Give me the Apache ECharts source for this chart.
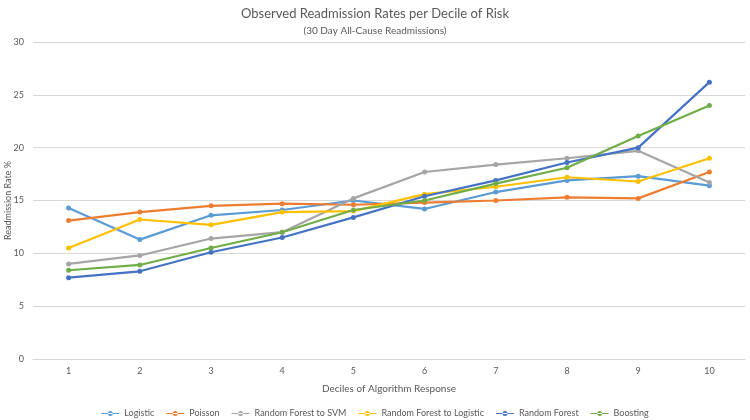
<!DOCTYPE html>
<html>
<head>
<meta charset="utf-8">
<script src="https://cdn.jsdelivr.net/npm/echarts@6/dist/echarts.min.js"></script>
<style>html,body{margin:0;padding:0;background:#fff}#c{width:750px;height:420px}</style>
</head>
<body>
<div id="c"></div>
<script>
var categories = ['1','2','3','4','5','6','7','8','9','10'];
var logistic = [14.3, 11.3, 13.6, 14.1, 15.0, 14.2, 15.8, 16.9, 17.3, 16.4];
var poisson = [13.1, 13.9, 14.5, 14.7, 14.6, 14.8, 15.0, 15.3, 15.2, 17.7];
var rfToSvm = [9.0, 9.8, 11.4, 12.0, 15.2, 17.7, 18.4, 19.0, 19.7, 16.7];
var rfToLogistic = [10.5, 13.2, 12.7, 13.9, 14.0, 15.6, 16.3, 17.2, 16.8, 19.0];
var randomForest = [7.7, 8.3, 10.1, 11.5, 13.4, 15.4, 16.9, 18.6, 20.0, 26.2];
var boosting = [8.4, 8.9, 10.5, 12.0, 14.1, 15.0, 16.6, 18.1, 21.1, 24.0];
var seriesNames = ['Logistic','Poisson','Random Forest to SVM','Random Forest to Logistic','Random Forest','Boosting'];
var seriesData = [logistic, poisson, rfToSvm, rfToLogistic, randomForest, boosting];
var colors = ['#5B9BD5','#ED7D31','#A5A5A5','#FFC000','#4472C4','#70AD47'];
var yTicks = [0, 5, 10, 15, 20, 25, 30];

var font = 'Lato, "Open Sans", sans-serif';
var chart = echarts.init(document.getElementById('c'), null, {renderer: 'canvas'});
chart.setOption({
  animation: false,
  color: colors,
  title: [{
    text: 'Observed Readmission Rates per Decile of Risk',
    left: 'center', top: 2,
    textStyle: {fontFamily: font, fontSize: 13, fontWeight: 'normal', color: '#595959'}
  }, {
    text: '(30 Day All-Cause Readmissions)',
    left: 'center', top: 21,
    textStyle: {fontFamily: font, fontSize: 10, fontWeight: 'normal', color: '#595959'}
  }],
  grid: {left: 33, right: 5, top: 42, bottom: 61, containLabel: false, outerBoundsMode: 'none'},
  legend: {
    left: 'center', top: 404, itemGap: 12, itemWidth: 18, itemHeight: 8,
    icon: 'path://M0,3.5 L18,3.5 L18,4.5 L0,4.5 Z M6.5,4 A2.5,2.5 0 1,0 11.5,4 A2.5,2.5 0 1,0 6.5,4 Z',
    textStyle: {fontFamily: font, fontSize: 9, color: '#595959'},
    data: seriesNames
  },
  xAxis: {
    type: 'category', data: categories, boundaryGap: true,
    name: 'Deciles of Algorithm Response', nameLocation: 'middle', nameGap: 25,
    nameMoveOverlap: false,
    nameTextStyle: {fontFamily: font, fontSize: 10, color: '#595959'},
    axisLine: {lineStyle: {color: '#D9D9D9'}},
    axisTick: {show: false},
    axisLabel: {fontFamily: font, fontSize: 9, color: '#595959', margin: 8}
  },
  yAxis: {
    type: 'value', min: 0, max: 30, interval: 5,
    name: 'Readmission Rate %', nameLocation: 'middle', nameGap: 20,
    nameMoveOverlap: false,
    nameTextStyle: {fontFamily: font, fontSize: 9, color: '#595959'},
    axisLine: {show: false}, axisTick: {show: false},
    axisLabel: {fontFamily: font, fontSize: 9, color: '#595959', margin: 9,
      formatter: function(v){ return yTicks.indexOf(v) >= 0 ? String(v) : ''; }},
    splitLine: {lineStyle: {color: '#D9D9D9', width: 1}}
  },
  series: seriesNames.map(function(n, i){
    return {
      name: n, type: 'line', data: seriesData[i],
      symbol: 'circle', symbolSize: 5, showSymbol: true,
      lineStyle: {width: 2.2, color: colors[i]},
      itemStyle: {color: colors[i]}
    };
  })
});
</script>
</body>
</html>
